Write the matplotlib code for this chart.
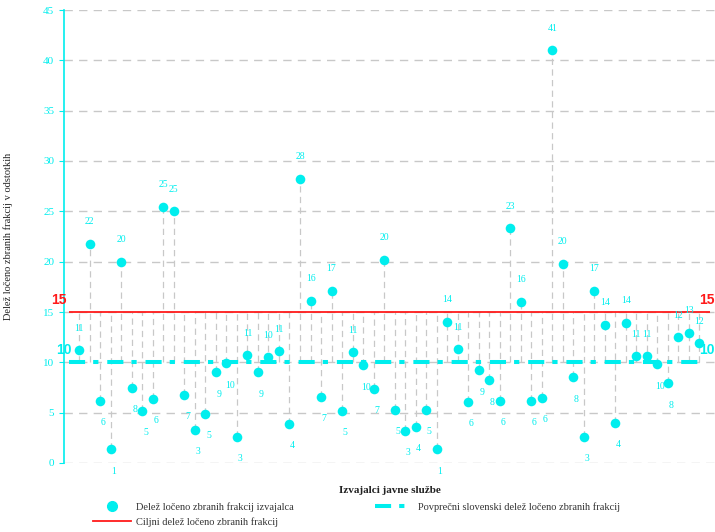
import numpy as np
import matplotlib
matplotlib.use("Agg")
import matplotlib.pyplot as plt
from matplotlib.lines import Line2D

plt.rcParams["font.family"] = "Liberation Serif"

# delez locenio zbranih frakcij po izvajalcih (v %)
values = [11.2, 21.8, 6.2, 1.4, 20.0, 7.5, 5.2, 6.4, 25.45, 25.0,
          6.8, 3.3, 4.9, 9.0, 9.9, 2.6, 10.7, 9.0, 10.5, 11.1,
          3.9, 28.2, 16.1, 6.6, 17.1, 5.2, 11.0, 9.7, 7.4, 20.2,
          5.3, 3.2, 3.6, 5.3, 1.4, 14.0, 11.3, 6.1, 9.2, 8.2,
          6.2, 23.3, 16.0, 6.2, 6.5, 41.0, 19.8, 8.5, 2.6, 17.1,
          13.7, 4.0, 13.9, 10.6, 10.6, 9.8, 7.9, 12.5, 12.9, 11.9]
avg_share = 10
target_share = 15

lbl_points = "Delež ločeno zbranih frakcij izvajalca"
lbl_avg = "Povprečni slovenski delež ločeno zbranih frakcij"
lbl_target = "Ciljni delež ločeno zbranih frakcij"

cyan = "#00eeee"
red = "#ff1a1a"
grey = "#c8c8c8"

x = np.arange(1, len(values) + 1)
v = np.array(values)

fig = plt.figure(figsize=(7.15, 5.32), dpi=100)
ax = fig.add_axes([64 / 715, 69 / 532, 651 / 715, 453 / 532])

# grid
for yy in range(0, 50, 5):
    ax.axhline(yy, color=grey, lw=1.0, dashes=(6, 4.5), zorder=0)

# vertical guides between the two reference lines and the points
ax.vlines(x, np.minimum(v, avg_share), np.maximum(v, target_share),
          color=grey, lw=0.9, linestyles=(0, (5, 3.5)), zorder=1)

ax.hlines(target_share, 0, 61, color=red, lw=1.3, zorder=2)
ax.hlines(avg_share, 0, 60.5, color=cyan, lw=2.9,
          linestyles=(0, (4, 2, 1.3, 2.2)), zorder=2)

ax.scatter(x, v, s=48, color=cyan, zorder=4, linewidths=0)

for xi, vi in zip(x, v):
    if vi >= avg_share:
        ax.text(xi, vi + 2.2, "%.0f" % vi, color=cyan, fontsize=7,
                ha="center", va="center", zorder=5)
    else:
        ax.text(xi + 0.3, vi - 2.2, "%.0f" % vi, color=cyan, fontsize=7,
                ha="center", va="center", zorder=5, clip_on=False)

# oznake referencnih linij
ax.text(-0.95, target_share + 1.2, "15", color=red, fontsize=10,
        fontweight="bold", family="Liberation Sans",
        ha="center", va="center", clip_on=False)
ax.text(61.42, target_share + 1.2, "15", color=red, fontsize=10,
        fontweight="bold", family="Liberation Sans",
        ha="right", va="center", clip_on=False)
ax.text(-0.45, avg_share + 1.2, "10", color=cyan, fontsize=10,
        fontweight="bold", family="Liberation Sans",
        ha="center", va="center", clip_on=False)
ax.text(61.42, avg_share + 1.2, "10", color=cyan, fontsize=10,
        fontweight="bold", family="Liberation Sans",
        ha="right", va="center", clip_on=False)

ax.set_xlim(-0.456, 61.49)
ax.set_ylim(0, 45)
ax.set_yticks(range(0, 50, 5))
ax.set_xticks([])
ax.tick_params(axis="y", colors=cyan, labelsize=8, length=3.5, width=0.8)
for s in ["top", "right", "bottom"]:
    ax.spines[s].set_visible(False)
ax.spines["left"].set_color(cyan)
ax.spines["left"].set_linewidth(1.2)

ax.set_ylabel("Delež ločeno zbranih frakcij v odstotkih", fontsize=7.5,
              color="#222222")
ax.yaxis.set_label_coords(-0.078, 0.5)
ax.set_xlabel("Izvajalci javne službe", fontsize=8, fontweight="bold",
              color="#222222")
ax.xaxis.set_label_coords(0.5, -0.051)

handles = [
    Line2D([], [], ls="none", marker="o", ms=7, color=cyan, mec=cyan),
    Line2D([], [], color=red, lw=1.3),
    Line2D([], [], color=cyan, lw=2.9, dashes=(4, 2, 1.3, 2.2)),
]
fig.legend(handles, [lbl_points, lbl_target, lbl_avg], ncol=2,
           loc="upper left", bbox_to_anchor=(88 / 715, 1 - 497 / 532),
           frameon=False, fontsize=7.5, handlelength=3.6,
           handletextpad=0.5, columnspacing=7.8, labelspacing=0.5,
           labelcolor="#333333", borderpad=0)

fig.savefig("out.png", dpi=100)
